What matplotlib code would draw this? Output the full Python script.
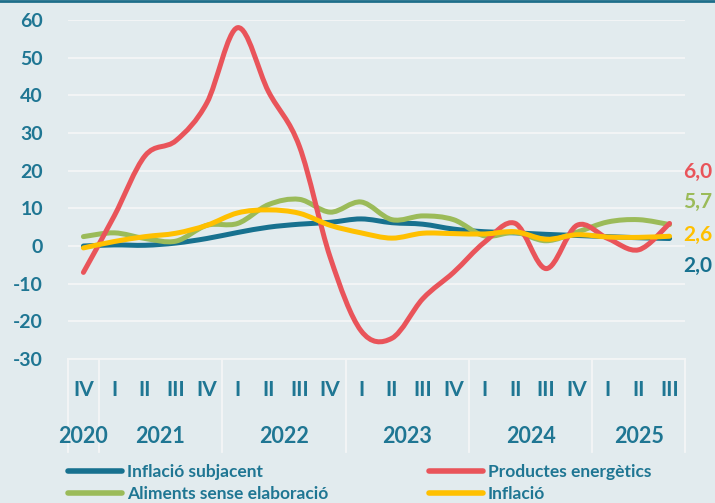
import numpy as np
import matplotlib
matplotlib.use("Agg")
import matplotlib.pyplot as plt
from matplotlib.path import Path
from matplotlib.patches import PathPatch
from matplotlib.lines import Line2D
import matplotlib.transforms as mtransforms

plt.rcParams['font.family'] = ['Lato', 'DejaVu Sans']
plt.rcParams['axes.unicode_minus'] = False

# ---------------- data ----------------
quarters = ["IV", "I", "II", "III", "IV", "I", "II", "III", "IV", "I", "II", "III", "IV",
            "I", "II", "III", "IV", "I", "II", "III"]
years = ["2020", "2021", "2022", "2023", "2024", "2025"]
year_start = [0, 1, 5, 9, 13, 17]   # first quarter index of each year
year_end = [0, 4, 8, 12, 16, 19]    # last quarter index of each year

subjacent = [0.0, 0.3, 0.2, 0.8, 2.0, 3.6, 5.0, 5.8, 6.3, 7.2, 6.2, 5.8, 4.5, 3.8,
             3.5, 3.1, 2.8, 2.5, 2.2, 2.0]
energetics = [-7.0, 8.0, 24.0, 28.0, 38.0, 58.0, 41.0, 26.5, -3.0, -22.5, -24.5,
              -14.0, -7.0, 1.0, 6.0, -6.0, 5.5, 2.0, -1.0, 6.0]
aliments = [2.5, 3.5, 2.0, 1.3, 5.5, 6.0, 11.0, 12.4, 9.0, 11.7, 7.0, 8.0, 7.0,
            2.7, 3.6, 1.4, 3.7, 6.4, 7.0, 5.7]
inflacio = [-0.5, 1.2, 2.5, 3.4, 5.5, 8.8, 9.6, 8.7, 5.5, 3.5, 2.1, 3.4, 3.3,
            3.2, 3.8, 1.8, 3.0, 2.4, 2.3, 2.6]

end_labels = ["6,0", "5,7", "2,6", "2,0"]
series_names = ["Inflació subjacent", "Aliments sense elaboració",
                "Productes energètics", "Inflació"]

# ---------------- style ----------------
BG = "#E2EBEE"
TXT = "#1F7693"
C_TEAL = "#17718F"
C_RED = "#E9545A"
C_GREEN = "#9BBB59"
C_YEL = "#FFC000"
GRID = "#F4F6F6"
LW = 3.6


def smooth_path(xs, ys):
    """Catmull-Rom style smoothing (as in spreadsheet 'smoothed line')."""
    pts = np.column_stack([xs, ys]).astype(float)
    n = len(pts)
    verts = [pts[0]]
    codes = [Path.MOVETO]
    for i in range(n - 1):
        p0 = pts[i - 1] if i > 0 else pts[i]
        p1 = pts[i]
        p2 = pts[i + 1]
        p3 = pts[i + 2] if i + 2 < n else pts[i + 1]
        c1 = p1 + (p2 - p0) / 6.0
        c2 = p2 - (p3 - p1) / 6.0
        verts += [c1, c2, p2]
        codes += [Path.CURVE4] * 3
    return Path(verts, codes)


fig = plt.figure(figsize=(7.15, 5.03), dpi=100, facecolor=BG)
ax = fig.add_axes([0.0951, 0.2863, 0.8629, 0.6737])
ax.set_facecolor(BG)

x = np.arange(len(quarters))
ax.set_xlim(-0.5, len(quarters) - 0.5)
ax.set_ylim(-30, 60)
ax.set_yticks(np.arange(-30, 61, 10))
ax.yaxis.grid(True, color=GRID, linewidth=1.3)
ax.set_axisbelow(True)
for s in ["top", "right", "left"]:
    ax.spines[s].set_visible(False)
ax.spines["bottom"].set_color(GRID)
ax.spines["bottom"].set_linewidth(1.3)
ax.tick_params(axis="y", length=0, pad=18, labelsize=14, labelcolor=TXT)
for lab in ax.get_yticklabels():
    lab.set_fontweight("bold")
ax.set_xticks([])

series = [(subjacent, C_TEAL), (aliments, C_GREEN), (energetics, C_RED), (inflacio, C_YEL)]
for vals, col in series:
    p = PathPatch(smooth_path(x, vals), facecolor="none", edgecolor=col,
                  linewidth=LW, capstyle="round", joinstyle="round",
                  transform=ax.transData, zorder=3)
    ax.add_patch(p)

# end labels
label_y = [19.6, 11.6, 2.9, -5.3]
label_cols = [C_RED, C_GREEN, C_YEL, C_TEAL]
for txt, yv, col in zip(end_labels, label_y, label_cols):
    ax.text(19.43, yv, txt, color=col, fontsize=15, fontweight="bold",
            ha="left", va="center", clip_on=False)

# category axis: quarters, years and separators
bt = mtransforms.blended_transform_factory(ax.transData, ax.transAxes)
for i, q in enumerate(quarters):
    ax.text(i, -0.091, q, transform=bt, ha="center", va="center",
            fontsize=15, fontweight="bold", color=TXT, clip_on=False)
for yr, s0, s1 in zip(years, year_start, year_end):
    ax.text((s0 + s1) / 2, -0.230, yr, transform=bt, ha="center", va="center",
            fontsize=15.5, fontweight="bold", color=TXT, clip_on=False)
bounds = [year_start[0] - 0.5] + [e + 0.5 for e in year_end]
for b in bounds:
    ax.plot([b, b], [0, -0.274], transform=bt, color=GRID, linewidth=1.3,
            clip_on=False, zorder=1)

# legend
handles = [Line2D([], [], color=c, linewidth=LW + 0.4, solid_capstyle="round")
           for _, c in series]
leg = fig.legend(handles, series_names, ncol=2, loc="upper left",
                 bbox_to_anchor=(0.095, 0.078), frameon=False,
                 prop={"size": 12.5, "weight": "bold"},
                 handlelength=3.1, handletextpad=0.3, columnspacing=5.8,
                 labelspacing=0.38, borderaxespad=0, borderpad=0)
for t in leg.get_texts():
    t.set_color(TXT)

# top border line
fig.add_artist(Line2D([0, 1], [0.998, 0.998], transform=fig.transFigure,
                      color="#1E6E8A", linewidth=2))

fig.savefig("out.png", dpi=100, facecolor=BG)
